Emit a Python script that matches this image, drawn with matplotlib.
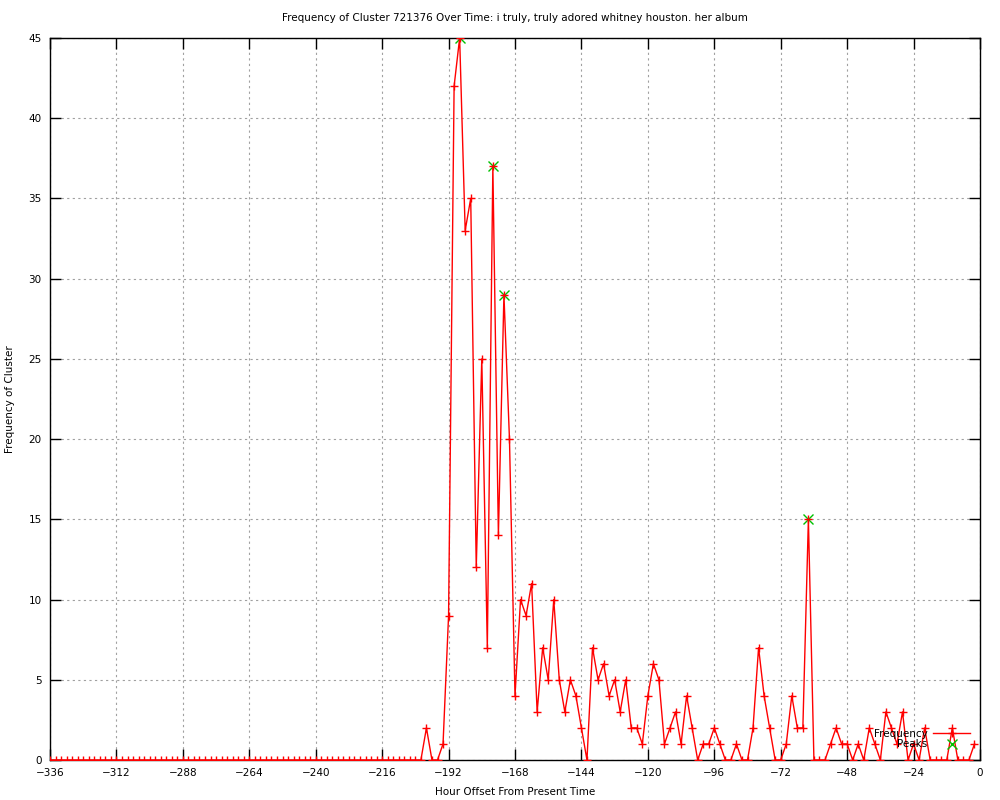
import numpy as np
import matplotlib
matplotlib.use("Agg")
import matplotlib.pyplot as plt

# hours before present, one reading every 2 hours
hours = np.arange(-336, 0, 2)

# frequency values, -336 .. -202 are all zero
freq = [0] * 68 + [
    2, 0, 0, 1, 9, 42, 45, 33, 35, 12,      # -200 .. -182
    25, 7, 37, 14, 29, 20, 4, 10, 9, 11,    # -180 .. -162
    3, 7, 5, 10, 5, 3, 5, 4, 2, 0,          # -160 .. -142
    7, 5, 6, 4, 5, 3, 5, 2, 2, 1,           # -140 .. -122
    4, 6, 5, 1, 2, 3, 1, 4, 2, 0,           # -120 .. -102
    1, 1, 2, 1, 0, 0, 1, 0, 0, 2,           # -100 .. -82
    7, 4, 2, 0, 0, 1, 4, 2, 2, 15,          # -80 .. -62
    0, 0, 0, 1, 2, 1, 1, 0, 1, 0,           # -60 .. -42
    2, 1, 0, 3, 2, 1, 3, 0, 1, 0,           # -40 .. -22
    2, 0, 0, 0, 0, 2, 0, 0, 0, 1,           # -20 .. -2
]

peak_hours = [-188, -176, -172, -62]
peak_vals = [45, 37, 29, 15]

title = "Frequency of Cluster 721376 Over Time: i truly, truly adored whitney houston. her album"

plt.rcParams['font.family'] = ['DejaVu Sans']
fs = 7.5

fig = plt.figure(figsize=(10, 8), dpi=100)
ax = fig.add_axes([0.05, 0.05, 0.93, 0.9025])

# peaks first so the red line sits on top
ax.plot(peak_hours, peak_vals, linestyle='none', marker='x', color='#00c000',
        markersize=6.5, markeredgewidth=1, label='Peaks', zorder=2)
ax.plot(hours, freq, color='red', linewidth=1, marker='+', markersize=5.5,
        markeredgewidth=1, label='Frequency', zorder=3)

ax.set_xlim(-336, 0)
ax.set_ylim(0, 45)
ax.set_xticks(np.arange(-336, 1, 24))
ax.set_yticks(np.arange(0, 46, 5))
ax.tick_params(direction='in', length=8, width=1, top=True, right=True,
               labelsize=fs, pad=6)
ax.grid(True, color='#a0a0a0', linestyle=(0, (2, 3)), linewidth=0.8)
for s in ax.spines.values():
    s.set_linewidth(1)

ax.set_title(title, fontsize=fs, pad=12)
ax.set_xlabel("Hour Offset From Present Time", fontsize=fs, labelpad=6)
ax.set_ylabel("Frequency of Cluster", fontsize=fs, labelpad=10)

# gnuplot style key: text on the left, sample on the right
h, l = ax.get_legend_handles_labels()
ax.legend(h[::-1], l[::-1], loc='lower right', bbox_to_anchor=(0.994, 0.009),
          markerfirst=False, frameon=False, fontsize=fs, handlelength=3.6,
          labelspacing=0.05, borderaxespad=0, handletextpad=0.5)

fig.savefig("out.png", dpi=100)
